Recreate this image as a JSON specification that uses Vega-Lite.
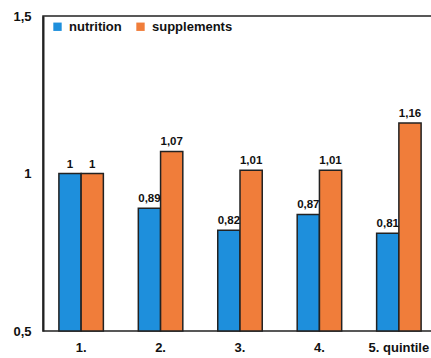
{
  "$schema": "https://vega.github.io/schema/vega-lite/v6.json",
  "autosize": {"type": "none"},
  "width": 394,
  "height": 315,
  "padding": {"left": 43, "top": 16, "right": 0, "bottom": 27},
  "background": "white",
  "config": {
    "locale": {"number": {"decimal": ",", "thousands": ".", "grouping": [3], "currency": ["", " €"]}},
    "font": "Liberation Sans",
    "view": {"stroke": "#222", "strokeWidth": 1.5}
  },
  "data": {"values": [
    {"q": "1.", "series": "nutrition", "v": 1},
    {"q": "1.", "series": "supplements", "v": 1},
    {"q": "2.", "series": "nutrition", "v": 0.89},
    {"q": "2.", "series": "supplements", "v": 1.07},
    {"q": "3.", "series": "nutrition", "v": 0.82},
    {"q": "3.", "series": "supplements", "v": 1.01},
    {"q": "4.", "series": "nutrition", "v": 0.87},
    {"q": "4.", "series": "supplements", "v": 1.01},
    {"q": "5. quintile", "series": "nutrition", "v": 0.81},
    {"q": "5. quintile", "series": "supplements", "v": 1.16}
  ]},
  "encoding": {
    "x": {"field": "q", "type": "nominal", "sort": null,
      "scale": {"paddingInner": 0.44, "paddingOuter": 0.2},
      "axis": {"title": null, "labelAngle": 0, "domain": false, "ticks": false, "labelFontWeight": "bold", "labelFontSize": 13, "labelColor": "#111", "labelPadding": 10}},
    "xOffset": {"field": "series", "type": "nominal"},
    "y": {"field": "v", "type": "quantitative",
      "scale": {"domain": [0.5, 1.5], "zero": false},
      "axis": {"title": null, "values": [0.5, 1, 1.5], "format": ".2~f", "grid": false, "ticks": false, "domain": true, "domainColor": "#222", "domainWidth": 2, "labelFontWeight": "bold", "labelFontSize": 13, "labelColor": "#111", "labelPadding": 12}}
  },
  "layer": [
    {
      "mark": {"type": "bar", "stroke": "#222", "strokeWidth": 1.5},
      "encoding": {
        "y2": {"datum": 0.5},
        "color": {"field": "series", "type": "nominal",
          "scale": {"domain": ["nutrition", "supplements"], "range": ["#1e8fdc", "#f07d3a"]},
          "legend": {"title": null, "orient": "none", "legendX": 8, "legendY": 4, "direction": "horizontal", "symbolType": "square", "symbolSize": 70, "symbolStrokeWidth": 0, "labelFontWeight": "bold", "labelFontSize": 13, "labelColor": "#111", "columnPadding": 12, "labelOffset": 5}}
      }
    },
    {
      "mark": {"type": "text", "dy": -9, "fontWeight": "bold", "fontSize": 11.5, "color": "#111"},
      "encoding": {"text": {"field": "v", "type": "quantitative", "format": ".2~f"}}
    }
  ]
}
